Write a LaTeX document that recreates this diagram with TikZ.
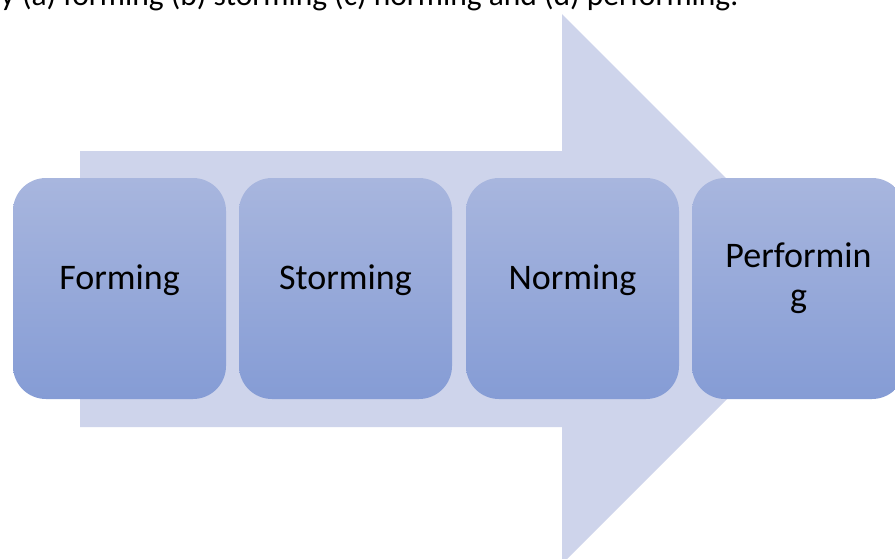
\documentclass[tikz,border=0pt]{standalone}
\usepackage{fontspec}
\setmainfont{Carlito}
\definecolor{arrowfill}{RGB}{206,212,235}
\definecolor{boxtop}{RGB}{168,182,222}
\definecolor{boxbot}{RGB}{133,156,213}
\begin{document}
\begin{tikzpicture}[x=1pt,y=1pt,
  stagebox/.style={rectangle, rounded corners=33pt, minimum width=213pt, minimum height=221pt,
    inner sep=0pt, top color=boxtop, bottom color=boxbot, draw=none,
    font=\fontsize{36}{40}\selectfont, text=black},
  oneline/.style={text height=15pt, text depth=13pt},
  caption/.style={font=\fontsize{31.5}{38}\selectfont, text=black, inner sep=0pt, anchor=base west}]
\useasboundingbox (0,0) rectangle (895,-558);
\clip (0,0) rectangle (895,-558);
\fill[white] (0,0) rectangle (895,-558);
% caption line, cut by the top edge
\node[caption] (cap) at (0.5,-5) {y (a) forming (b) storming (c) norming and (d) performing.};
% big arrow
\fill[arrowfill] (80,-151) -- (562,-151) -- (562,-14) -- (837,-289) -- (562,-564)
  -- (562,-427) -- (80,-427) -- cycle;
% stages
\node[stagebox, oneline] (forming) at (119.5,-288.5) {Forming};
\node[stagebox, oneline] (storming) at (345.5,-288.5) {Storming};
\node[stagebox, oneline] (norming) at (572.5,-288.5) {Norming};
\node[stagebox, align=center, text height=44pt, text depth=6pt] (performing) at (798.5,-288.5) {Performin\\g};
\end{tikzpicture}
\end{document}
